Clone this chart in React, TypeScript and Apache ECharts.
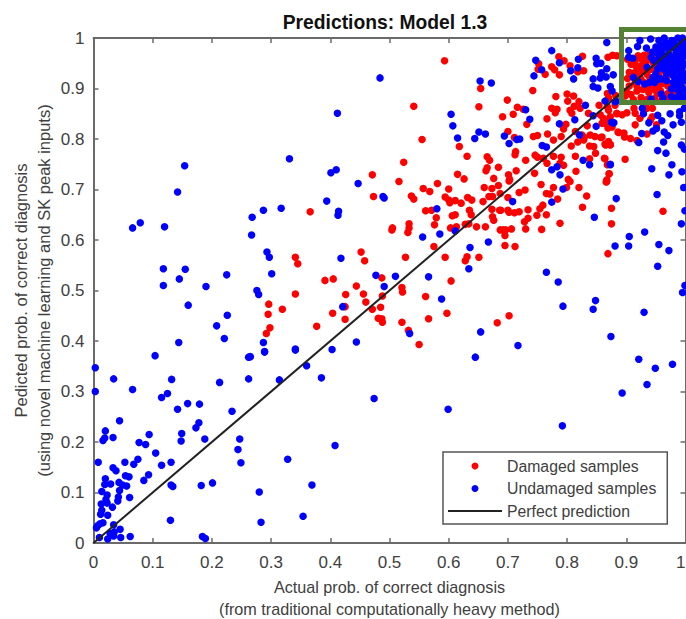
import React, { useEffect, useRef } from "react";
import * as echarts from "echarts";

const chartTitle = "Predictions: Model 1.3";
const xAxisName = "Actual prob. of correct diagnosis\n(from traditional computationally heavy method)";
const yAxisName = "Pedicted prob. of correct diagnosis\n(using novel machine learning and SK peak inputs)";
const perfectLine = [[0, 0], [1, 1]];

const undamagedLow = [
  [0.003,0.347],[0.003,0.300],[0.034,0.325],[0.066,0.304],[0.104,0.371],[0.132,0.324],[0.115,0.288],[0.125,0.296],[0.142,0.265],[0.159,0.276],
  [0.179,0.275],[0.213,0.318],[0.262,0.368],[0.262,0.325],[0.289,0.378],[0.314,0.323],[0.360,0.351],[0.385,0.327],[0.341,0.382],[0.234,0.261],
  [0.178,0.238],[0.173,0.228],[0.149,0.217],[0.148,0.202],[0.188,0.206],[0.247,0.206],[0.244,0.185],[0.249,0.159],[0.044,0.242],[0.020,0.222],
  [0.019,0.208],[0.016,0.203],[0.033,0.209],[0.094,0.215],[0.077,0.199],[0.088,0.195],[0.105,0.178],[0.008,0.160],[0.053,0.160],[0.068,0.156],
  [0.075,0.166],[0.115,0.154],[0.131,0.160],[0.033,0.149],[0.038,0.143],[0.054,0.133],[0.060,0.131],[0.093,0.135],[0.085,0.124],[0.020,0.127],
  [0.019,0.116],[0.029,0.117],[0.043,0.120],[0.049,0.115],[0.056,0.113],[0.044,0.104],[0.014,0.102],[0.023,0.095],[0.021,0.086],[0.042,0.091],
  [0.041,0.083],[0.061,0.090],[0.013,0.077],[0.023,0.079],[0.032,0.071],[0.014,0.065],[0.012,0.057],[0.024,0.055],[0.131,0.115],[0.134,0.112],
  [0.182,0.114],[0.201,0.119],[0.280,0.101],[0.369,0.115],[0.328,0.166],[0.354,0.053],[0.283,0.041],[0.130,0.045],[0.184,0.013],[0.189,0.009],
  [0.062,0.013],[0.046,0.011],[0.045,0.027],[0.035,0.022],[0.034,0.036],[0.028,0.019],[0.034,0.014],[0.024,0.008],[0.010,0.011],[0.016,0.040],
  [0.011,0.038],[0.007,0.034],[0.005,0.030],[0.474,0.286],[0.408,0.193],[0.599,0.265],[0.792,0.232],[0.893,0.297],[0.935,0.314],[0.949,0.346],[0.978,0.354],
];
const undamagedMiddle = [
  [0.154,0.747],[0.142,0.695],[0.066,0.624],[0.079,0.634],[0.120,0.626],[0.118,0.543],[0.118,0.510],[0.145,0.523],[0.155,0.542],[0.190,0.508],
  [0.225,0.531],[0.160,0.471],[0.226,0.451],[0.208,0.430],[0.221,0.405],[0.144,0.397],
  [0.331,0.761],[0.401,0.733],[0.410,0.739],[0.447,0.712],[0.394,0.677],[0.489,0.686],[0.491,0.683],[0.287,0.659],[0.317,0.663],[0.268,0.645],
  [0.414,0.657],[0.413,0.649],[0.267,0.610],[0.556,0.606],[0.585,0.612],[0.580,0.662],[0.611,0.618],[0.636,0.585],[0.667,0.596],[0.634,0.543],
  [0.566,0.527],[0.588,0.483],[0.293,0.576],[0.297,0.566],[0.301,0.533],[0.418,0.564],[0.477,0.530],[0.510,0.528],[0.491,0.508],[0.276,0.500],
  [0.279,0.492],[0.421,0.468],[0.287,0.397],[0.289,0.379],[0.341,0.384],[0.403,0.383],[0.444,0.398],[0.534,0.415],[0.654,0.418],[0.645,0.368],[0.265,0.369],
  [0.708,0.676],[0.774,0.675],[0.793,0.701],[0.846,0.645],[0.993,0.632],[0.931,0.616],[0.905,0.607],[0.881,0.588],[0.904,0.588],[0.955,0.591],
  [0.972,0.579],[0.953,0.548],[0.765,0.536],[0.785,0.517],[0.793,0.469],[0.848,0.480],[0.844,0.463],[0.930,0.457],[0.995,0.496],[0.999,0.510],
  [0.874,0.409],[0.717,0.391],[0.921,0.364],[0.999,0.658],
];
const undamagedHigh = [
  [0.484,0.921],[0.412,0.851],[0.604,0.849],[0.607,0.826],[0.615,0.802],[0.644,0.801],[0.651,0.814],[0.662,0.810],[0.653,0.915],[0.672,0.911],
  [0.694,0.806],[0.702,0.791],[0.715,0.799],[0.720,0.800],[0.867,0.991],[0.774,0.975],[0.747,0.956],[0.744,0.925],[0.757,0.937],[0.787,0.951],
  [0.819,0.958],[0.806,0.935],[0.818,0.941],[0.811,0.919],[0.849,0.960],[0.850,0.949],[0.857,0.950],[0.867,0.939],[0.858,0.931],[0.856,0.921],
  [0.866,0.923],[0.878,0.927],[0.844,0.919],[0.844,0.904],[0.852,0.901],[0.873,0.904],[0.876,0.895],[0.883,0.875],[0.864,0.875],[0.831,0.867],
  [0.844,0.846],[0.875,0.833],[0.879,0.832],[0.813,0.838],[0.787,0.830],[0.849,0.825],[0.730,0.858],[0.737,0.839],[0.821,0.808],[0.758,0.787],
  [0.765,0.784],[0.827,0.758],[0.838,0.749],[0.873,0.750],[0.783,0.745],[0.774,0.739],[0.788,0.729],
  [0.927,0.861],[0.929,0.850],[0.953,0.847],[0.960,0.836],[0.974,0.850],[0.990,0.854],[0.990,0.846],[0.993,0.833],[0.979,0.828],[0.938,0.832],
  [0.877,0.832],[0.951,0.821],[0.945,0.816],[0.926,0.811],[0.964,0.814],[0.970,0.807],[0.963,0.794],[0.921,0.793],[0.953,0.777],[0.967,0.772],
  [0.993,0.788],[0.998,0.780],[0.873,0.749],[0.977,0.749],[0.943,0.741],[0.994,0.735],[0.972,0.729],[0.952,0.690],[0.997,0.704],[0.883,0.682],
  [0.998,0.861],[0.881,0.874],
];
const undamagedCluster = [
  [0.923,0.995],[0.941,0.998],[0.904,0.975],[0.919,0.983],[0.934,0.980],[0.964,1.0],[0.967,0.991],[0.977,0.995],[0.987,1.0],[0.995,1.0],
  [0.998,0.991],[0.992,0.988],[0.984,0.985],[0.976,0.981],[0.967,0.980],[0.959,0.986],[0.958,0.976],[0.992,0.975],[0.998,0.978],[0.984,0.972],
  [0.972,0.968],[0.961,0.968],[0.950,0.972],[0.944,0.972],[0.904,0.962],[0.911,0.960],[0.942,0.962],[0.946,0.956],[0.995,0.962],[0.984,0.958],
  [0.976,0.955],[0.967,0.956],[0.965,0.949],[0.973,0.945],[0.982,0.945],[0.990,0.949],[0.998,0.949],[0.956,0.952],[0.935,0.942],[0.953,0.939],
  [0.962,0.939],[0.970,0.935],[0.982,0.935],[0.993,0.935],[0.998,0.929],[0.990,0.925],[0.979,0.925],[0.968,0.929],[0.950,0.929],[0.945,0.922],
  [0.954,0.919],[0.912,0.922],[0.920,0.914],[0.931,0.909],[0.939,0.912],[0.948,0.912],[0.959,0.919],[0.968,0.916],[0.979,0.912],[0.990,0.912],
  [0.998,0.916],[0.994,0.902],[0.985,0.899],[0.976,0.899],[0.990,0.889],[0.998,0.896],[0.976,0.884],[0.959,0.889],[0.962,0.881],[0.942,0.879],
  [0.998,0.879],[0.990,0.877],[0.984,0.881],[0.955,0.995],[0.972,0.987],[0.980,0.990],[0.990,0.981],[0.996,0.968],[0.988,0.966],[0.978,0.962],
  [0.988,0.955],[0.994,0.942],[0.986,0.940],[0.976,0.931],[0.984,0.918],[0.994,0.922],[0.992,0.908],[0.982,0.906],[0.988,0.896],[0.996,0.886],
  [0.972,0.948],[0.964,0.957],[0.956,0.963],[0.950,0.982],[0.962,0.946],[0.978,0.940],
];
const undamagedSamples = [...undamagedLow, ...undamagedMiddle, ...undamagedHigh, ...undamagedCluster];

const damagedLower = [
  [0.555,0.799],[0.618,0.785],[0.631,0.766],[0.524,0.754],[0.471,0.729],[0.516,0.716],[0.473,0.686],[0.366,0.656],[0.665,0.765],[0.669,0.758],
  [0.665,0.743],[0.663,0.737],[0.684,0.744],[0.615,0.730],[0.626,0.721],[0.676,0.722],[0.684,0.708],[0.581,0.712],[0.557,0.702],[0.568,0.696],
  [0.600,0.701],[0.660,0.704],[0.673,0.702],[0.687,0.692],[0.537,0.687],[0.541,0.681],[0.594,0.685],[0.600,0.679],[0.602,0.674],[0.611,0.678],
  [0.621,0.673],[0.632,0.684],[0.639,0.679],[0.658,0.676],[0.668,0.686],[0.674,0.686],[0.561,0.658],[0.571,0.659],[0.635,0.659],[0.638,0.650],
  [0.606,0.648],[0.611,0.650],[0.673,0.661],[0.686,0.659],[0.674,0.646],[0.676,0.639],[0.579,0.644],[0.576,0.630],[0.533,0.632],[0.533,0.624],
  [0.531,0.615],[0.505,0.624],[0.504,0.620],[0.603,0.624],[0.613,0.626],[0.628,0.631],[0.634,0.632],[0.647,0.626],[0.662,0.626],[0.687,0.620],
  [0.575,0.587],[0.594,0.566],[0.527,0.566],[0.628,0.559],[0.631,0.567],[0.651,0.566],[0.452,0.576],[0.458,0.559],[0.341,0.566],[0.345,0.553],
  [0.487,0.525],[0.391,0.520],[0.405,0.523],[0.444,0.509],[0.604,0.519],[0.521,0.506],[0.522,0.497],[0.341,0.493],[0.426,0.492],[0.456,0.493],
  [0.488,0.489],[0.561,0.488],[0.460,0.477],[0.485,0.467],[0.425,0.468],[0.296,0.473],[0.319,0.463],[0.295,0.453],[0.404,0.455],[0.471,0.463],
  [0.597,0.455],[0.566,0.444],[0.425,0.443],[0.481,0.445],[0.487,0.444],[0.488,0.437],[0.521,0.437],[0.682,0.436],[0.298,0.426],[0.292,0.415],
  [0.377,0.429],[0.532,0.421],[0.550,0.393],[0.702,0.450],
];
const damagedMiddle = [
  [0.702,0.717],[0.756,0.710],[0.777,0.704],[0.799,0.704],[0.805,0.716],[0.820,0.704],[0.833,0.687],[0.866,0.715],[0.719,0.694],[0.729,0.699],
  [0.765,0.692],[0.771,0.691],[0.784,0.681],[0.700,0.684],[0.826,0.665],[0.875,0.663],[0.962,0.657],[0.759,0.669],[0.754,0.662],[0.688,0.659],
  [0.700,0.659],[0.702,0.655],[0.711,0.654],[0.719,0.656],[0.734,0.660],[0.749,0.649],[0.765,0.650],[0.734,0.643],[0.728,0.636],[0.788,0.633],
  [0.875,0.632],[0.730,0.622],[0.757,0.621],[0.706,0.622],[0.692,0.620],[0.696,0.620],[0.695,0.609],[0.695,0.589],[0.712,0.587],[0.869,0.573],
];
const damagedUpper = [
  [0.593,0.955],[0.541,0.865],[0.654,0.900],[0.651,0.864],[0.699,0.877],[0.716,0.863],[0.691,0.844],[0.709,0.849],[0.700,0.815],[0.711,0.803],
  [0.713,0.775],[0.712,0.769],[0.714,0.737],[0.701,0.729],[0.703,0.720],[0.786,0.963],[0.826,0.964],[0.869,0.962],[0.877,0.966],[0.884,0.965],
  [0.752,0.949],[0.751,0.938],[0.763,0.928],[0.774,0.943],[0.779,0.937],[0.787,0.927],[0.795,0.955],[0.805,0.945],[0.818,0.933],[0.828,0.935],
  [0.742,0.896],[0.726,0.859],[0.732,0.829],[0.766,0.840],[0.774,0.861],[0.781,0.884],[0.783,0.859],[0.780,0.852],[0.800,0.889],[0.811,0.885],
  [0.801,0.875],[0.820,0.874],[0.812,0.865],[0.805,0.857],[0.822,0.861],[0.808,0.851],[0.836,0.851],[0.854,0.867],[0.868,0.890],[0.870,0.881],
  [0.882,0.886],[0.868,0.864],[0.884,0.851],[0.856,0.848],[0.873,0.844],[0.794,0.820],[0.798,0.829],[0.834,0.826],[0.859,0.831],[0.869,0.822],
  [0.886,0.814],[0.743,0.805],[0.750,0.807],[0.767,0.810],[0.777,0.798],[0.790,0.805],[0.814,0.815],[0.825,0.808],[0.839,0.808],[0.829,0.803],
  [0.847,0.805],[0.857,0.803],[0.818,0.794],[0.807,0.786],[0.838,0.786],[0.845,0.785],[0.865,0.788],[0.873,0.789],[0.828,0.798],[0.730,0.758],
  [0.746,0.768],[0.750,0.764],[0.760,0.762],[0.777,0.766],[0.790,0.764],[0.814,0.766],[0.848,0.772],[0.766,0.752],[0.788,0.752],[0.794,0.748],
  [0.838,0.761],[0.864,0.761],[0.745,0.732],[0.815,0.736],[0.871,0.731],[0.802,0.720],[0.867,0.719],
  [0.870,0.857],[0.881,0.867],[0.861,0.841],[0.870,0.838],[0.864,0.831],[0.876,0.824],[0.884,0.850],[0.893,0.848],[0.901,0.852],[0.913,0.861],
  [0.915,0.851],[0.923,0.841],[0.915,0.828],[0.935,0.861],[0.944,0.861],[0.944,0.844],[0.941,0.838],[0.951,0.828],[0.935,0.810],[0.907,0.801],
  [0.897,0.804],[0.896,0.812],[0.887,0.813],[0.859,0.804],[0.918,0.797],[0.870,0.795],[0.864,0.790],[0.873,0.788],[0.863,0.762],[0.898,0.760],
  [0.868,0.749],[0.871,0.731],[0.867,0.716],
];
const damagedCluster = [
  [0.902,0.958],[0.908,0.948],[0.915,0.955],[0.920,0.965],[0.926,0.958],[0.932,0.950],[0.938,0.958],[0.925,0.945],[0.918,0.938],[0.905,0.932],
  [0.912,0.930],[0.928,0.935],[0.935,0.928],[0.942,0.938],[0.948,0.945],[0.952,0.958],[0.905,0.905],[0.915,0.912],[0.925,0.918],[0.935,0.905],
  [0.945,0.912],[0.955,0.905],[0.962,0.910],[0.970,0.905],[0.958,0.895],[0.948,0.898],[0.938,0.892],[0.928,0.898],[0.918,0.895],[0.908,0.888],
  [0.898,0.885],[0.912,0.878],[0.925,0.882],[0.935,0.878],[0.948,0.880],[0.960,0.878],[0.970,0.890],[0.980,0.888],[0.972,0.878],[0.968,0.925],
  [0.960,0.935],[0.975,0.938],[0.955,0.925],[0.980,0.955],[0.965,0.962],[0.940,0.970],[0.950,0.975],[0.930,0.966],[0.922,0.925],[0.940,0.920],
  [0.930,0.912],[0.952,0.890],[0.942,0.905],[0.918,0.905],[0.902,0.920],[0.900,0.895],[0.916,0.945],[0.945,0.952],
];
const damagedSamples = [...damagedLower, ...damagedMiddle, ...damagedUpper, ...damagedCluster];

const textColor = "#404040";
const axisColor = "#6a6a6a";
const fontFamily = '"Liberation Sans", Arial, sans-serif';

const axisBase = (position: string, show: boolean) => ({
  type: "value", min: 0, max: 1, interval: 0.1, position,
  splitLine: { show: false },
  axisLine: { show: true, onZero: false, lineStyle: { color: axisColor, width: 2 } },
  axisTick: { show: true, inside: true, length: 5, lineStyle: { color: axisColor, width: 1.5 } },
  axisLabel: { show, color: textColor, fontSize: 17, fontFamily, margin: 9, showMaxLabel: true, hideOverlap: false },
});
const makeX = (position: string, show: boolean) => {
  const base = axisBase(position, show);
  return {
    ...base,
    axisLabel: { ...base.axisLabel, margin: 11, alignMaxLabel: "right" },
    ...(show ? { name: xAxisName, nameLocation: "middle", nameGap: 32, nameTextStyle: { color: textColor, fontSize: 16.2, fontFamily, lineHeight: 22 } } : {}),
  };
};
const makeY = (position: string, show: boolean) => ({
  ...axisBase(position, show),
  ...(show ? { name: yAxisName, nameLocation: "middle", nameGap: 38, nameMoveOverlap: false, nameTextStyle: { color: textColor, fontSize: 16.5, fontFamily, lineHeight: 23 } } : {}),
});

export default function App() {
  const ref = useRef<HTMLDivElement>(null);
  useEffect(() => {
    document.body.style.margin = "0";
    const chart = echarts.init(ref.current!, undefined, { renderer: "svg" });
    chart.setOption({
      animation: false,
      backgroundColor: "#ffffff",
      title: {
        text: chartTitle, left: 380, top: 8, textAlign: "center",
        textStyle: { color: "#111", fontSize: 19.3, fontWeight: "bold", fontFamily },
      },
      grid: { left: 93.5, top: 38, width: 592, height: 505, containLabel: false, outerBoundsMode: "none" },
      xAxis: [makeX("bottom", true), makeX("top", false)],
      yAxis: [makeY("left", true), makeY("right", false)],
      legend: {
        left: 443, top: 452, orient: "vertical", selectedMode: false,
        backgroundColor: "#fff", borderColor: "#555", borderWidth: 1.5, borderRadius: 0,
        padding: [6, 11, 5, 4], itemGap: 6.5, itemWidth: 54, itemHeight: 7,
        textStyle: { color: textColor, fontSize: 15.8, fontFamily, lineHeight: 14 },
        data: [
          { name: "Damaged samples", icon: "circle" },
          { name: "Undamaged samples", icon: "circle" },
          { name: "Perfect prediction", itemStyle: { opacity: 0 } },
        ],
      },
      series: [
        { name: "Damaged samples", type: "scatter", data: damagedSamples, symbol: "circle", symbolSize: 7.5, clip: false, itemStyle: { color: "#ff0000", opacity: 1 } },
        { name: "Undamaged samples", type: "scatter", data: undamagedSamples, symbol: "circle", symbolSize: 7.5, clip: false, itemStyle: { color: "#0000ff", opacity: 1 } },
        { name: "Perfect prediction", type: "line", data: perfectLine, symbol: "none", clip: false, lineStyle: { color: "#222222", width: 2 }, itemStyle: { color: "#222222" } },
      ],
      graphic: [
        { type: "rect", z: 100, shape: { x: 621.5, y: 29.5, width: 80, height: 73 }, style: { fill: "transparent", stroke: "#548235", lineWidth: 5 } },
      ],
    });
    return () => chart.dispose();
  }, []);
  return <div ref={ref} style={{ width: 686, height: 619 }} />;
}
